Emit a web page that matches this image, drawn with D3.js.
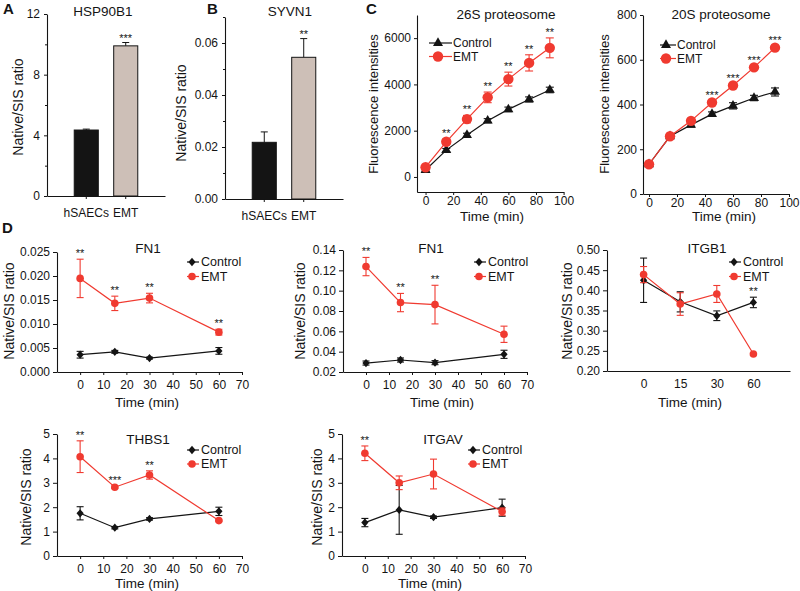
<!DOCTYPE html>
<html><head><meta charset="utf-8">
<script src="https://cdn.jsdelivr.net/npm/d3@7"></script>
<style>body{margin:0;background:#fff}</style>
</head><body><script>
// ---------------- DATA ----------------
const barCategories = ["hSAECs", "EMT"];
const hsp90b1Values = [4.35, 9.9];
const hsp90b1Errors = [0.06, 0.22];
const hsp90b1Stars = ["", "***"];
const syvn1Values = [0.0218, 0.0545];
const syvn1Errors = [0.0040, 0.0072];
const syvn1Stars = ["", "**"];

const proteasomeTimes = [0, 15, 30, 45, 60, 75, 90];
const p26Control = [300, 1160, 1810, 2430, 2920, 3350, 3760];
const p26ControlErr = [50, 70, 80, 90, 100, 110, 120];
const p26EMT = [420, 1520, 2500, 3440, 4230, 4930, 5580];
const p26EMTErr = [60, 110, 160, 230, 300, 350, 430];
const p26Stars = ["", "**", "**", "**", "**", "**", "**"];
const p20Control = [133, 258, 309, 357, 394, 429, 456];
const p20ControlErr = [6, 8, 10, 10, 14, 12, 18];
const p20EMT = [133, 258, 327, 409, 485, 566, 654];
const p20EMTErr = [6, 8, 8, 8, 8, 8, 8];
const p20Stars = ["", "", "", "***", "***", "***", "***"];
const proteasomeTicks = [0, 20, 40, 60, 80, 100];

const sampleTimes = [0, 15, 30, 60];
const timeTicks = [0, 10, 20, 30, 40, 50, 60, 70];
const itgb1TickLabels = ["0", "15", "30", "60"];

const fn1aControl = [0.0036, 0.0042, 0.0029, 0.0044];
const fn1aControlErr = [0.0007, 0.0003, 0.0002, 0.0007];
const fn1aEMT = [0.0195, 0.0143, 0.0154, 0.0083];
const fn1aEMTErr = [0.0040, 0.0015, 0.0010, 0.0006];
const fn1aStars = ["**", "**", "**", "**"];

const fn1bControl = [0.0288, 0.0318, 0.0292, 0.0374];
const fn1bControlErr = [0.002, 0.002, 0.002, 0.004];
const fn1bEMT = [0.1237, 0.0883, 0.0863, 0.0571];
const fn1bEMTErr = [0.009, 0.009, 0.019, 0.008];
const fn1bStars = ["**", "**", "**", ""];

const itgb1Control = [0.425, 0.3715, 0.337, 0.370];
const itgb1ControlErr = [0.055, 0.025, 0.012, 0.013];
const itgb1EMT = [0.439, 0.366, 0.391, 0.242];
const itgb1EMTErr = [0.02, 0.028, 0.021, 0];
const itgb1Stars = ["", "", "", "**"];

const thbs1Control = [1.75, 1.16, 1.52, 1.83];
const thbs1ControlErr = [0.27, 0.05, 0.05, 0.17];
const thbs1EMT = [4.07, 2.82, 3.32, 1.45];
const thbs1EMTErr = [0.65, 0.05, 0.17, 0.03];
const thbs1Stars = ["**", "***", "**", ""];

const itgavControl = [1.37, 1.89, 1.59, 1.98];
const itgavControlErr = [0.17, 1.0, 0.05, 0.35];
const itgavEMT = [4.21, 3.0, 3.36, 1.82];
const itgavEMTErr = [0.3, 0.28, 0.61, 0.15];
const itgavStars = ["**", "", "", ""];

// ---------------- DRAWING ----------------
const FONT = '"Liberation Sans", Arial, Helvetica, sans-serif';
const RED = "#f03a30", INK = "#141414", TAUPE = "#cdbfb7";
const svg = d3.select("body").append("svg")
  .attr("width", 800).attr("height", 591)
  .style("font-family", FONT);

function styleAxis(g, fs = 12) {
  g.select(".domain").attr("stroke", INK).attr("stroke-width", 1.1);
  g.selectAll(".tick line").attr("stroke", INK).attr("stroke-width", 1);
  g.selectAll(".tick text").attr("font-size", fs).attr("fill", INK).attr("font-family", FONT);
  return g;
}
function label(x, y, str, o = {}) {
  return svg.append("text").attr("x", x).attr("y", y)
    .attr("text-anchor", o.anchor || "middle")
    .attr("font-size", o.size || 13)
    .attr("font-weight", o.weight || "normal")
    .attr("fill", o.fill || INK).text(str);
}
function vlabel(x, y, str, size) {
  svg.append("text").attr("transform", `translate(${x},${y}) rotate(-90)`)
    .attr("text-anchor", "middle").attr("dy", "0.35em")
    .attr("font-size", size).attr("fill", INK).text(str);
}
function drawMarker(kind, cx, cy, s, color) {
  if (kind === "circle") {
    svg.append("circle").attr("cx", cx).attr("cy", cy).attr("r", s).attr("fill", color);
  } else if (kind === "triangle") {
    const h = s * 1.732;
    svg.append("path").attr("transform", `translate(${cx},${cy})`)
      .attr("d", `M0,${-h * 2 / 3}L${s},${h / 3}L${-s},${h / 3}Z`).attr("fill", color);
  } else {
    svg.append("path").attr("transform", `translate(${cx},${cy})`)
      .attr("d", `M0,${-s * 1.15}L${s},0L0,${s * 1.15}L${-s},0Z`).attr("fill", color);
  }
}

// ---- bar panels ----
function barPanel(p) {
  const x = d3.scaleBand().domain(barCategories).range(p.xRange).paddingInner(0.39).paddingOuter(0.69);
  const y = d3.scaleLinear().domain(p.yDomain).range(p.yRange);
  styleAxis(svg.append("g").attr("transform", `translate(${p.xRange[0]},0)`)
    .call(d3.axisLeft(y).tickValues(p.yTicks).tickFormat(p.yFormat).tickSize(3).tickPadding(4).tickSizeOuter(0)));
  styleAxis(svg.append("g").attr("transform", `translate(${p.xRange[0]},0)`)
    .call(d3.axisLeft(y).tickValues(p.yMinor).tickFormat("").tickSize(2).tickSizeOuter(0)))
    .select(".domain").remove();
  const xg = styleAxis(svg.append("g").attr("transform", `translate(0,${p.yRange[0]})`)
    .call(d3.axisBottom(x).tickSize(3).tickSizeOuter(0)));
  xg.selectAll(".tick text").attr("y", 12);
  const fills = [INK, TAUPE];
  barCategories.forEach((c, i) => {
    const v = p.values[i], e = p.errors[i];
    const cx = x(c) + x.bandwidth() / 2;
    svg.append("line").attr("x1", cx).attr("x2", cx).attr("y1", y(v)).attr("y2", y(v + e)).attr("stroke", INK).attr("stroke-width", 1);
    svg.append("line").attr("x1", cx - 3.5).attr("x2", cx + 3.5).attr("y1", y(v + e)).attr("y2", y(v + e)).attr("stroke", INK).attr("stroke-width", 1);
    svg.append("rect").attr("x", x(c)).attr("y", y(v)).attr("width", x.bandwidth())
      .attr("height", y(p.yDomain[0]) - y(v)).attr("fill", fills[i]).attr("stroke", INK).attr("stroke-width", 1);
    if (p.stars[i]) label(cx, y(v + e) - 1, p.stars[i], { size: 11 });
  });
  label(p.titleX, 16, p.title, { size: 13.5 });
  vlabel(p.ylabX, p.ylabY, "Native/SIS ratio", 14);
}

barPanel({ values: hsp90b1Values, errors: hsp90b1Errors, stars: hsp90b1Stars,
  xRange: [47, 165], yRange: [196, 14], yDomain: [0, 12], yTicks: [0, 4, 8, 12], yMinor: [2, 6, 10],
  yFormat: d3.format("d"), title: "HSP90B1", titleX: 103, ylabX: 18.5, ylabY: 107 });
barPanel({ values: syvn1Values, errors: syvn1Errors, stars: syvn1Stars,
  xRange: [225, 343], yRange: [199, 17], yDomain: [0, 0.07], yTicks: [0, 0.02, 0.04, 0.06], yMinor: [0.01, 0.03, 0.05, 0.07],
  yFormat: d3.format(".2f"), title: "SYVN1", titleX: 290, ylabX: 181, ylabY: 113 });

// ---- line panels ----
function linePanel(p) {
  const x = d3.scaleLinear().domain(p.xDomain).range(p.xRange);
  const y = d3.scaleLinear().domain(p.yDomain).range(p.yRange);
  const xpos = p.indexX ? (i => x(i + 1)) : (i => x(p.times[i]));
  const xa = d3.axisBottom(x).tickValues(p.xTicks).tickSize(p.xTickSize).tickPadding(p.xTickPad).tickSizeOuter(0)
    .tickFormat(p.xTickLabels ? ((d, i) => p.xTickLabels[i]) : d3.format("d"));
  styleAxis(svg.append("g").attr("transform", `translate(0,${p.yRange[0]})`).call(xa));
  styleAxis(svg.append("g").attr("transform", `translate(${p.xRange[0]},0)`)
    .call(d3.axisLeft(y).tickValues(p.yTicks).tickFormat(p.yFormat).tickSize(p.yTickSize).tickPadding(p.yTickPad).tickSizeOuter(0)));

  p.series.forEach(s => {
    const line = d3.line().x((d, i) => xpos(i)).y(d => y(d));
    svg.append("path").attr("d", line(s.values)).attr("fill", "none").attr("stroke", s.color).attr("stroke-width", 1.2);
    s.values.forEach((v, i) => {
      const e = s.errors[i];
      if (!(e > 0)) return;
      const cx = xpos(i);
      svg.append("line").attr("x1", cx).attr("x2", cx).attr("y1", y(v + e)).attr("y2", y(v - e)).attr("stroke", s.color).attr("stroke-width", 1.1);
      [v + e, v - e].forEach(t => svg.append("line").attr("x1", cx - p.cap).attr("x2", cx + p.cap)
        .attr("y1", y(t)).attr("y2", y(t)).attr("stroke", s.color).attr("stroke-width", 1.1));
    });
    s.values.forEach((v, i) => drawMarker(s.marker, xpos(i), y(v), s.size, s.color));
  });
  p.stars.forEach((st, i) => {
    if (!st) return;
    const top = Math.min(...p.series.map(s => y(s.values[i] + s.errors[i])));
    label(xpos(i), top - 2, st, { size: 11 });
  });
  label(p.titleX, p.titleY, p.title, { size: 13.5 });
  // legend
  p.series.forEach((s, k) => {
    const ly = p.legend.y + k * p.legend.dy;
    svg.append("line").attr("x1", p.legend.x0).attr("x2", p.legend.x1).attr("y1", ly).attr("y2", ly)
      .attr("stroke", s.color).attr("stroke-width", 1.2);
    drawMarker(s.marker, p.legend.m, ly, s.size, s.color);
    label(p.legend.tx, ly, s.name, { size: p.legend.size || 12.5, anchor: "start" }).attr("dy", "0.35em");
  });
  label(p.xlab[0], p.xlab[1], "Time (min)", { size: 13.5 }).attr("dy", "0.35em");
  vlabel(p.ylab[0], p.ylab[1], p.ylabText, p.ylabSize);
}

function proteasome(ctrl, ctrlErr, emt, emtErr) {
  return [
    { name: "Control", values: ctrl, errors: ctrlErr, color: INK, marker: "triangle", size: 5 },
    { name: "EMT", values: emt, errors: emtErr, color: RED, marker: "circle", size: 5.2 }
  ];
}
linePanel({ times: proteasomeTimes, xDomain: [-6.2, 100], xRange: [417, 563.6], yDomain: [-650, 7000], yRange: [192, 15],
  xTicks: proteasomeTicks, xTickSize: 3, xTickPad: 1.5, yTicks: [0, 2000, 4000, 6000], yFormat: d3.format("d"), yTickSize: 3, yTickPad: 3,
  series: proteasome(p26Control, p26ControlErr, p26EMT, p26EMTErr), stars: p26Stars, cap: 4,
  title: "26S proteosome", titleX: 506, titleY: 19,
  legend: { y: 43, dy: 13.5, x0: 429, x1: 452, m: 438, tx: 453, size: 12 },
  xlab: [492, 216], ylab: [373, 104], ylabText: "Fluorescence intensities", ylabSize: 13 });
linePanel({ times: proteasomeTimes, xDomain: [-4.3, 100], xRange: [643, 789], yDomain: [0, 800], yRange: [194, 15],
  xTicks: proteasomeTicks, xTickSize: 3, xTickPad: 1.5, yTicks: [0, 200, 400, 600, 800], yFormat: d3.format("d"), yTickSize: 3, yTickPad: 3,
  series: proteasome(p20Control, p20ControlErr, p20EMT, p20EMTErr), stars: p20Stars, cap: 4,
  title: "20S proteosome", titleX: 721, titleY: 19,
  legend: { y: 45, dy: 13.5, x0: 660, x1: 676, m: 666, tx: 677, size: 12 },
  xlab: [724, 216], ylab: [604, 104], ylabText: "Fluorescence intensities", ylabSize: 13 });

function timecourse(ctrl, ctrlErr, emt, emtErr) {
  return [
    { name: "Control", values: ctrl, errors: ctrlErr, color: INK, marker: "diamond", size: 3.6 },
    { name: "EMT", values: emt, errors: emtErr, color: RED, marker: "circle", size: 3.8 }
  ];
}
const dCommon = { times: sampleTimes, xDomain: [-10, 70], xTicks: timeTicks, xTickSize: 3, xTickPad: 5,
  yTickSize: 4, yTickPad: 3, cap: 3.5, ylabText: "Native/SIS ratio", ylabSize: 14 };

linePanel(Object.assign({}, dCommon, { xRange: [57, 242], yDomain: [0, 0.025], yRange: [372, 252],
  yTicks: [0, 0.005, 0.01, 0.015, 0.02, 0.025], yFormat: d3.format(".3f"),
  series: timecourse(fn1aControl, fn1aControlErr, fn1aEMT, fn1aEMTErr), stars: fn1aStars,
  title: "FN1", titleX: 148, titleY: 253,
  legend: { y: 262, dy: 14.5, x0: 187, x1: 199, m: 192, tx: 201 },
  xlab: [147, 402], ylab: [9, 311] }));
linePanel(Object.assign({}, dCommon, { xRange: [343, 527], yDomain: [0.02, 0.14], yRange: [372, 250],
  yTicks: [0.02, 0.04, 0.06, 0.08, 0.1, 0.12, 0.14], yFormat: d3.format(".2f"),
  series: timecourse(fn1bControl, fn1bControlErr, fn1bEMT, fn1bEMTErr), stars: fn1bStars,
  title: "FN1", titleX: 431, titleY: 253,
  legend: { y: 262, dy: 14.5, x0: 474, x1: 486, m: 479, tx: 488 },
  xlab: [442, 402], ylab: [300, 311] }));
linePanel(Object.assign({}, dCommon, { indexX: true, xDomain: [0, 5], xRange: [607, 790], xTicks: [1, 2, 3, 4],
  xTickLabels: itgb1TickLabels, xTickSize: 0, xTickPad: 8,
  yDomain: [0.2, 0.5], yRange: [371, 250],
  yTicks: [0.2, 0.25, 0.3, 0.35, 0.4, 0.45, 0.5], yFormat: d3.format(".2f"),
  series: timecourse(itgb1Control, itgb1ControlErr, itgb1EMT, itgb1EMTErr), stars: itgb1Stars,
  title: "ITGB1", titleX: 707, titleY: 253,
  legend: { y: 262, dy: 14.5, x0: 729, x1: 741, m: 734, tx: 743 },
  xlab: [690, 402], ylab: [567, 311] }));
linePanel(Object.assign({}, dCommon, { xRange: [57, 242], yDomain: [0, 5], yRange: [556, 434],
  yTicks: [0, 1, 2, 3, 4, 5], yFormat: d3.format("d"),
  series: timecourse(thbs1Control, thbs1ControlErr, thbs1EMT, thbs1EMTErr), stars: thbs1Stars,
  title: "THBS1", titleX: 148, titleY: 444,
  legend: { y: 450, dy: 14, x0: 187, x1: 199, m: 192, tx: 201 },
  xlab: [147, 583], ylab: [26, 497] }));
linePanel(Object.assign({}, dCommon, { xRange: [342, 525], yDomain: [0, 5], yRange: [556, 434],
  yTicks: [0, 1, 2, 3, 4, 5], yFormat: d3.format("d"),
  series: timecourse(itgavControl, itgavControlErr, itgavEMT, itgavEMTErr), stars: itgavStars,
  title: "ITGAV", titleX: 443, titleY: 444,
  legend: { y: 450, dy: 14, x0: 468, x1: 480, m: 473, tx: 482 },
  xlab: [430, 583], ylab: [317, 497] }));

// panel letters
label(3, 14, "A", { size: 15, weight: "bold", anchor: "start" });
label(207, 14, "B", { size: 15, weight: "bold", anchor: "start" });
label(366, 14, "C", { size: 15, weight: "bold", anchor: "start" });
label(2, 233, "D", { size: 15, weight: "bold", anchor: "start" });
</script></body></html>
